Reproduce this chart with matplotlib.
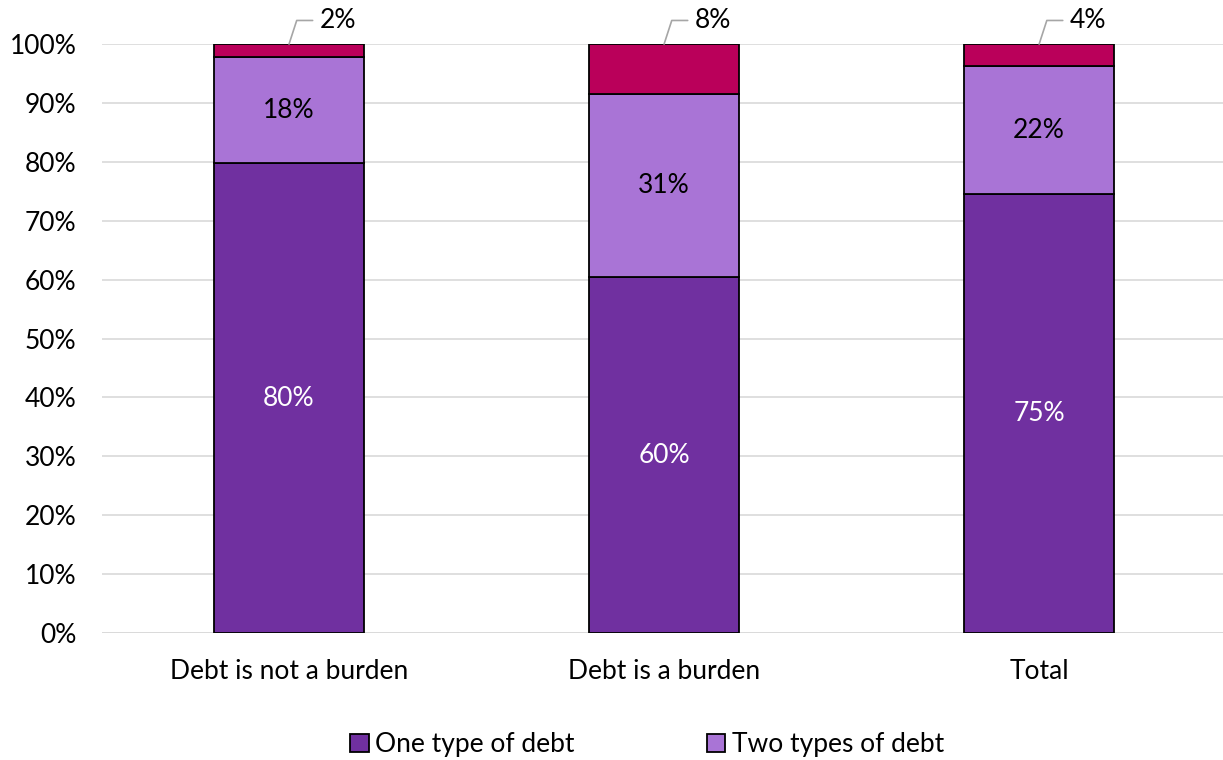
import matplotlib.pyplot as plt
import numpy as np

categories = ['Debt is not a burden', 'Debt is a burden', 'Total']
one_type = [79.8, 60.4, 74.6]
two_types = [18.0, 31.2, 21.6]
three_types = [2.2, 8.4, 3.8]

plt.rcParams['font.family'] = ['Lato', 'DejaVu Sans']
plt.rcParams['font.size'] = 19

fig = plt.figure(figsize=(12.23, 7.6), dpi=100)
ax = fig.add_axes([0.083, 0.167, 0.92, 0.775])

x = np.arange(len(categories))
w = 0.4
one = np.array(one_type) / 100
two = np.array(two_types) / 100
three = np.array(three_types) / 100

b1 = ax.bar(x, one, w, color='#7030A0', edgecolor='black', linewidth=1.3,
            label='One type of debt', zorder=3)
b2 = ax.bar(x, two, w, bottom=one, color='#A974D6', edgecolor='black', linewidth=1.3,
            label='Two types of debt', zorder=3)
b3 = ax.bar(x, three, w, bottom=one + two, color='#BA005A', edgecolor='black', linewidth=1.3,
            zorder=3)

for i in range(len(x)):
    ax.text(x[i], one[i] / 2, f'{one_type[i]:.0f}%', ha='center', va='center',
            color='white', zorder=4)
    ax.text(x[i], one[i] + two[i] / 2, f'{two_types[i]:.0f}%', ha='center', va='center',
            color='black', zorder=4)
    ax.annotate(f'{three_types[i]:.0f}%', xy=(x[i], 1.0), xytext=(22, 17),
                textcoords='offset points', ha='left', va='center', annotation_clip=False,
                arrowprops=dict(arrowstyle='-', color='#A6A6A6', lw=1.2,
                                connectionstyle='angle,angleA=0,angleB=72,rad=0',
                                shrinkA=3, shrinkB=0))

ax.set_xlim(-0.5, 2.5)
ax.set_ylim(0, 1.0)
ax.set_yticks(np.arange(0, 1.01, 0.1))
ax.set_yticklabels([f'{int(v)}%' for v in np.arange(0, 101, 10)])
ax.set_xticks(x)
ax.set_xticklabels(categories)
ax.tick_params(axis='y', length=0, pad=18)
ax.tick_params(axis='x', length=0, pad=19)
ax.grid(axis='y', color='#D9D9D9', linewidth=1.2, zorder=0)
for s in ax.spines.values():
    s.set_visible(False)
ax.axhline(0, color='#D9D9D9', linewidth=1.2, zorder=1)

ax.legend(handles=[b1, b2], loc='center', bbox_to_anchor=(0.485, -0.19), ncol=2,
          frameon=False, handlelength=0.7, handleheight=0.7, handletextpad=0.25,
          columnspacing=5.0)

fig.savefig('out.png', dpi=100)
